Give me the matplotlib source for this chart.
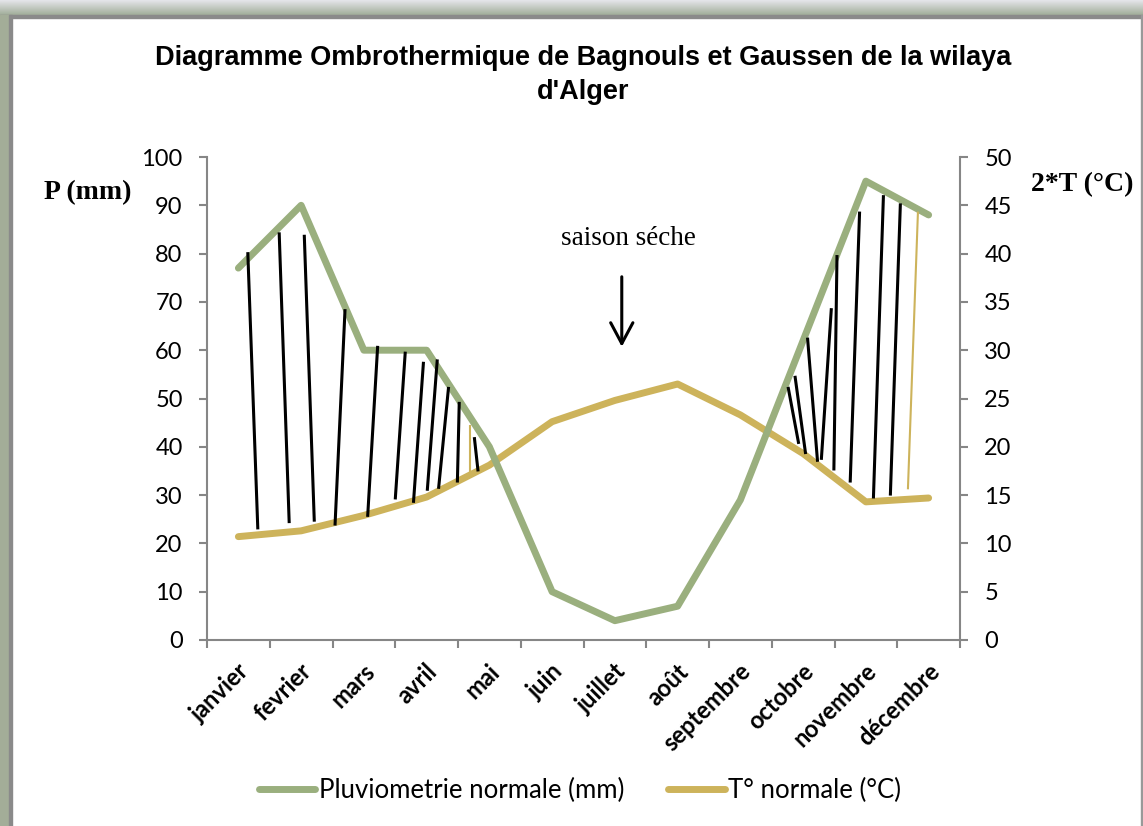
import matplotlib
matplotlib.use('Agg')
import matplotlib.pyplot as plt
from matplotlib.lines import Line2D
from matplotlib.patches import Rectangle
import numpy as np

# ---------------- data ----------------
months = ['janvier', 'fevrier', 'mars', 'avril', 'mai', 'juin', 'juillet',
          'août', 'septembre', 'octobre', 'novembre', 'décembre']
precip = [77, 90, 60, 60, 40, 10, 4, 7, 29, 62, 95, 88]            # P (mm)
temp = [10.7, 11.3, 12.9, 14.8, 18.1, 22.6, 24.8, 26.5, 23.3, 19.3, 14.3, 14.7]  # T (°C)

left_ticks = list(range(0, 101, 10))
right_ticks = list(range(0, 51, 5))

# hand-drawn hatching of the humid period (x_top, P_top, x_bottom, P_bottom)
hatch_black = [
    (0.15, 80.3, 0.31, 22.9), (0.65, 84.4, 0.81, 24.2), (1.05, 83.9, 1.21, 24.5),
    (1.70, 68.5, 1.54, 23.7), (2.22, 60.9, 2.06, 25.5), (2.66, 59.7, 2.50, 29.1),
    (2.95, 57.6, 2.79, 28.4), (3.17, 58.1, 3.01, 30.9), (3.35, 52.4, 3.19, 31.3),
    (3.52, 49.3, 3.49, 32.6), (3.76, 42.0, 3.82, 34.9),
    (8.76, 52.4, 8.93, 40.6), (8.87, 54.7, 9.04, 38.5), (9.07, 62.6, 9.23, 36.9),
    (9.45, 68.7, 9.29, 37.3), (9.54, 79.7, 9.49, 35.1), (9.90, 88.7, 9.75, 32.6),
    (10.28, 92.1, 10.12, 29.3), (10.55, 90.4, 10.39, 29.9),
]
hatch_tan = [(3.69, 44.5, 3.69, 34.6), (10.83, 88.7, 10.67, 31.2)]

GREEN = '#9AAF7E'
TAN = '#CDB35B'
GRAY = '#868686'
SANS = ['Lato', 'DejaVu Sans']
SERIF = ['Liberation Serif', 'DejaVu Serif']
ARIAL = ['Liberation Sans', 'DejaVu Sans']

W, H = 1143, 826
fig = plt.figure(figsize=(W / 100, H / 100), dpi=100)
fig.patch.set_facecolor('white')

# ---------------- frame (picture border) ----------------
band = fig.add_axes([0, 1 - 15 / H, 1, 15 / H])
grad = np.linspace(0, 1, 50)[:, None, None]
top_c = np.array([0.90, 0.90, 0.92])
bot_c = np.array([0.63, 0.68, 0.60])
img = top_c * (1 - grad) + bot_c * grad
band.imshow(np.repeat(img, 10, axis=1), aspect='auto', extent=[0, 1, 0, 1])
band.axis('off')
fig.add_artist(Rectangle((0, 1 - 18 / H), 1, 3 / H, transform=fig.transFigure,
                         color='#8a8a8a', zorder=5))
fig.add_artist(Rectangle((0, 0), 9 / W, 1 - 15 / H, transform=fig.transFigure,
                         color='#a3ad98', zorder=5))
fig.add_artist(Rectangle((9 / W, 0), 3 / W, 1 - 15 / H, transform=fig.transFigure,
                         color='#8a8a8a', zorder=5))
fig.add_artist(Rectangle((1 - 2 / W, 0), 2 / W, 1 - 15 / H, transform=fig.transFigure,
                         color='#999999', zorder=5))

# ---------------- axes ----------------
ax = fig.add_axes([207 / W, 1 - 640 / H, (960 - 207) / W, (640 - 157) / H])
ax2 = ax.twinx()
ax.set_zorder(ax2.get_zorder() + 1)
ax.patch.set_visible(False)

x = np.arange(len(months))
ax2.plot(x, temp, color=TAN, lw=5, solid_capstyle='round', solid_joinstyle='round')
ax.plot(x, precip, color=GREEN, lw=5, solid_capstyle='round', solid_joinstyle='round',
        zorder=3)

for xt, yt, xb, yb in hatch_black:
    ax.plot([xt, xb], [yt, yb], color='black', lw=2.2, zorder=4, solid_capstyle='butt')
for xt, yt, xb, yb in hatch_tan:
    ax.plot([xt, xb], [yt, yb], color=TAN, lw=1.5, zorder=4, solid_capstyle='butt')

ax.set_xlim(-0.5, len(months) - 0.5)
ax.set_ylim(0, 100)
ax2.set_ylim(0, 50)
ax.set_yticks(left_ticks)
ax2.set_yticks(right_ticks)

# category boundaries carry the tick marks; labels sit slightly right of centre
ax.set_xticks(np.arange(-0.5, len(months), 1.0))
ax.set_xticklabels([])
ax.set_xticks(x + 0.24, minor=True)
ax.set_xticklabels(months, minor=True, rotation=45, ha='right', va='top',
                   fontfamily=SANS, fontweight='bold', fontsize=17)

ax.tick_params(axis='x', which='major', length=6, width=1.5, color=GRAY, direction='out')
ax.tick_params(axis='x', which='minor', length=0, pad=14)
ax.tick_params(axis='y', length=6, width=1.5, color=GRAY, pad=11.5, labelsize=17)
ax2.tick_params(axis='y', length=6, width=1.5, color=GRAY, pad=11.5, labelsize=17)
for lab in ax.get_yticklabels() + ax2.get_yticklabels():
    lab.set_fontfamily(SANS)

for a in (ax, ax2):
    a.spines['top'].set_visible(False)
ax.spines['right'].set_visible(False)
ax2.spines['left'].set_visible(False)
ax2.spines['bottom'].set_visible(False)
for s in ('left', 'bottom'):
    ax.spines[s].set_color(GRAY)
    ax.spines[s].set_linewidth(1.5)
ax2.spines['right'].set_color(GRAY)
ax2.spines['right'].set_linewidth(1.5)

# ---------------- annotations ----------------
ax.text(6.21, 83.2, 'saison séche', fontfamily=SERIF, fontsize=19.5,
        ha='center', va='center', zorder=5)
ax.annotate('', xy=(6.11, 60.7), xytext=(6.11, 75.2),
            arrowprops=dict(arrowstyle='->,head_length=0.75,head_width=0.4',
                            lw=2.2, color='black', mutation_scale=20,
                            shrinkA=0, shrinkB=0), zorder=5)

fig.text(583 / W, 1 - 58 / H,
         'Diagramme Ombrothermique de Bagnouls et Gaussen de la wilaya',
         fontfamily=ARIAL, fontweight='bold', fontsize=19.5, ha='center', va='center')
fig.text(583 / W, 1 - 92 / H, "d'Alger",
         fontfamily=ARIAL, fontweight='bold', fontsize=19.5, ha='center', va='center')

fig.text(88 / W, 1 - 193 / H, 'P (mm)', fontfamily=SERIF, fontweight='bold',
         fontsize=20, ha='center', va='center')
fig.text(1082 / W, 1 - 185 / H, '2*T (°C)', fontfamily=SERIF, fontweight='bold',
         fontsize=20, ha='center', va='center')

handles = [Line2D([], [], color=GREEN, lw=5, solid_capstyle='round'),
           Line2D([], [], color=TAN, lw=5, solid_capstyle='round')]
fig.legend(handles, ['Pluviometrie normale (mm)', 'T° normale (°C)'],
           loc='center', bbox_to_anchor=(580 / W, 1 - 790 / H), ncol=2,
           frameon=False, prop={'family': SANS, 'size': 18.5},
           handlelength=2.2, handletextpad=0.15, columnspacing=1.7)

fig.savefig('out.png', dpi=100, facecolor='white')
